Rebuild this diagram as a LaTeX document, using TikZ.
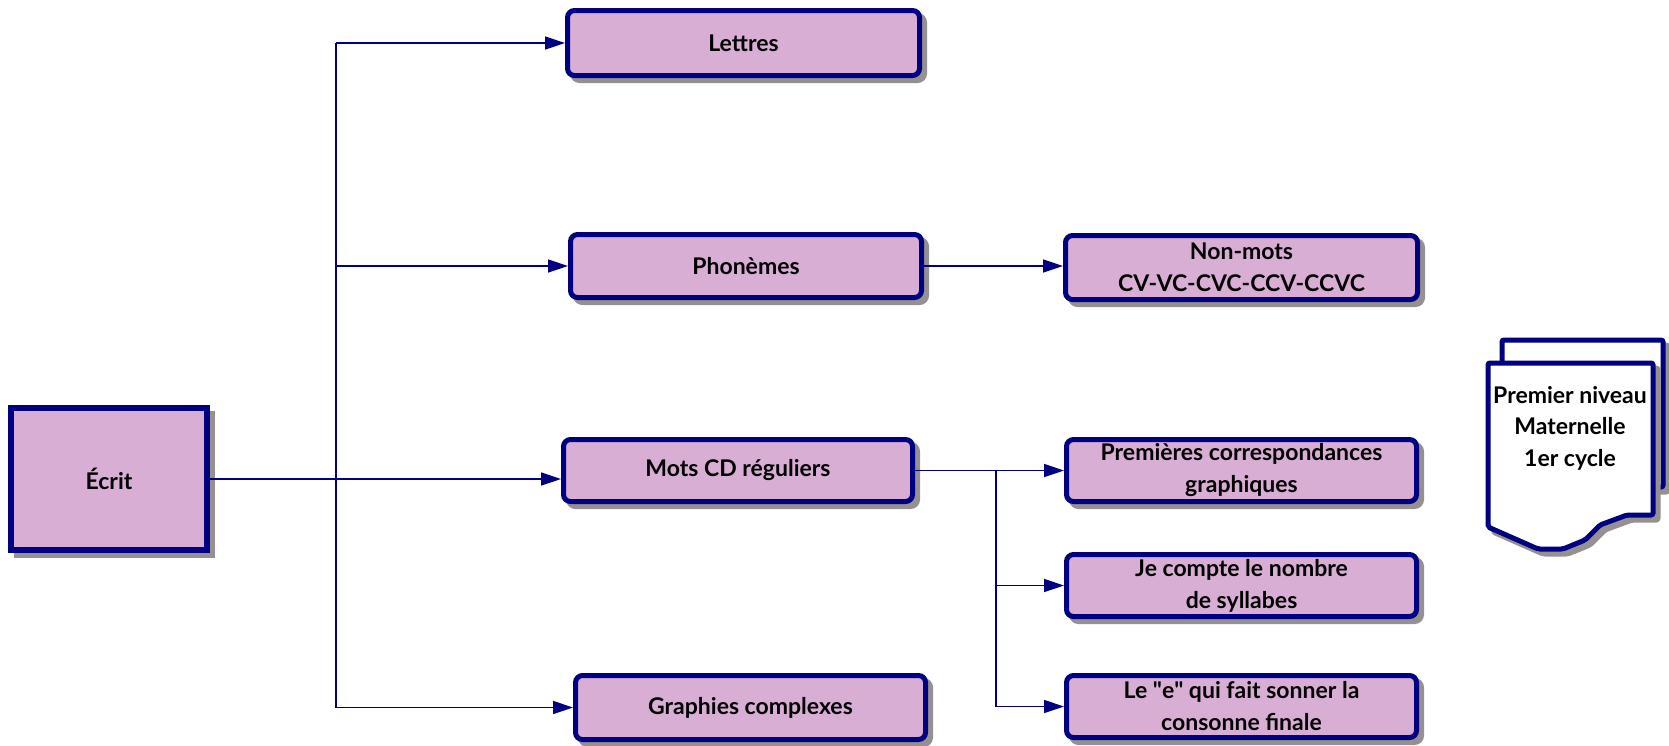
\documentclass[tikz,border=0pt]{standalone}
\usepackage{fontspec}
\setmainfont{Lato}
\usetikzlibrary{arrows.meta,shadows}
\definecolor{navyc}{RGB}{0,0,128}
\definecolor{boxfill}{RGB}{216,174,212}
\definecolor{shade}{RGB}{150,145,145}
\begin{document}
\begin{tikzpicture}[x=1pt,y=-1pt,
 shad/.style={drop shadow={shadow xshift=5pt,shadow yshift=-5pt,fill=shade,draw=shade,line width=5pt,opacity=1}},
 box/.style={draw=navyc,fill=boxfill,line width=5pt,rounded corners=7pt,shad,
   minimum width=350pt,minimum height=63pt,inner sep=0pt,align=center,
   font=\fontsize{23}{32}\selectfont\bfseries},
 conn/.style={draw=navyc,line width=1.5pt},
 arr/.style={conn,-{Triangle[length=20pt,width=13pt]}},
 page/.style={draw=navyc,fill=white,line width=5pt,rounded corners=2pt,shad},
]
\useasboundingbox (0,0) rectangle (1669,745);

\node[box,minimum width=196pt,minimum height=142pt,rounded corners=0pt,line width=6pt] (ecrit) at (109,479) {Écrit};
\node[box,minimum width=352pt,minimum height=65pt] (lettres) at (743.5,43) {Lettres};
\node[box,minimum width=351pt] (phon) at (746,266) {Phonèmes};
\node[box,minimum width=352pt,minimum height=64pt] (nonmots) at (1241.5,267.5) {Non-mots\\CV-VC-CVC-CCV-CCVC};
\node[box,minimum width=349pt,minimum height=62pt] (mots) at (738,470.5) {Mots CD réguliers};
\node[box,minimum height=62pt] (prem) at (1241.5,470.5) {Premières correspondances\\graphiques};
\node[box,minimum height=62pt] (compte) at (1241.5,585.5) {Je compte le nombre\\de syllabes};
\node[box,minimum height=62pt] (lee) at (1241.5,706.5) {Le \textquotedbl e\textquotedbl{} qui fait sonner la\\consonne finale};
\node[box,minimum height=64pt] (graph) at (750.5,707.5) {Graphies complexes};

\coordinate (tx) at (336,0);
\coordinate (bx) at (996,0);

\draw[conn] (tx |- lettres.west) -- (tx |- graph.west);
\draw[arr] (ecrit.east) -- (ecrit.east -| mots.west);
\draw[arr] (tx |- lettres.west) -- (lettres.west);
\draw[arr] (tx |- phon.west) -- (phon.west);
\draw[arr] (tx |- graph.west) -- (graph.west);
\draw[arr] (phon.east) -- (phon.east -| nonmots.west);

\draw[conn] (mots.east) -- (bx |- mots.east);
\draw[conn] (bx |- prem.west) -- (bx |- lee.west);
\draw[arr] (bx |- prem.west) -- (prem.west);
\draw[arr] (bx |- compte.west) -- (compte.west);
\draw[arr] (bx |- lee.west) -- (lee.west);

\path[page] (1502,487) -- (1502,340) -- (1663,340) -- (1663,487) -- cycle;
\path[page] (1488,363) -- (1653,363) -- (1653,515) -- (1627,515) -- (1600,525) -- (1585,540)
  -- (1563,549) -- (1538,549) -- (1488,527) -- cycle;
\node[align=center,inner sep=0pt,font=\fontsize{23}{31.5}\selectfont\bfseries] (doc) at (1570,428)
  {Premier niveau\\Maternelle\\1er cycle};
\end{tikzpicture}
\end{document}
